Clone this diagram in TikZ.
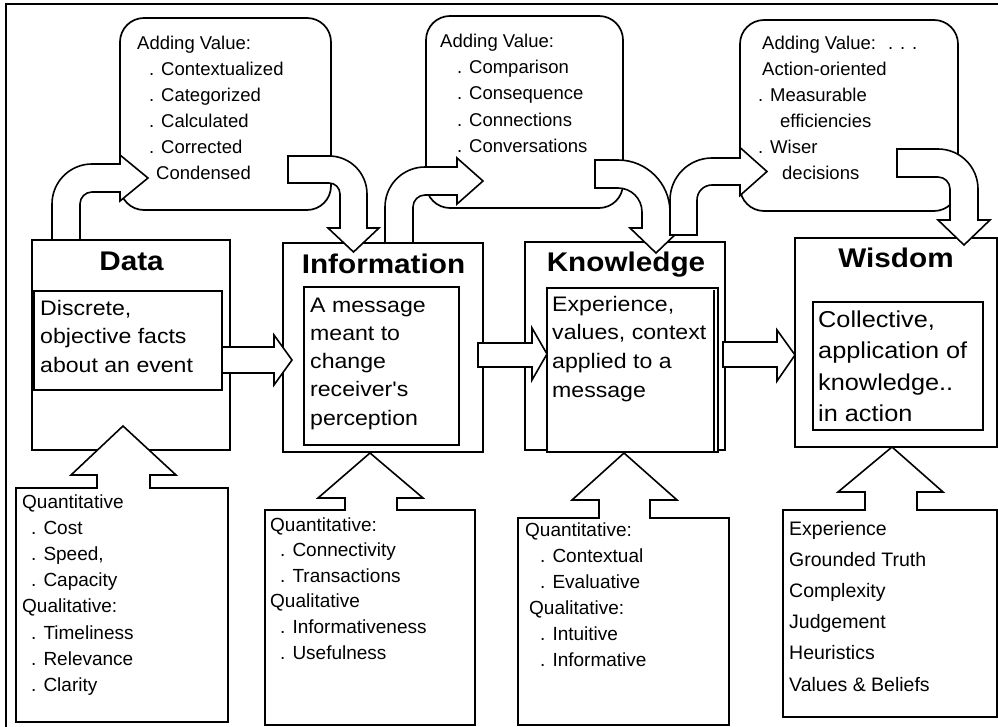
\documentclass[tikz,border=0pt]{standalone}
\usepackage{fontspec}
\setmainfont{Liberation Sans}
\newfontfamily\widefont[FakeStretch=1.1]{Liberation Sans}
\begin{document}
\begin{tikzpicture}[x=1pt,y=-1pt,
  box/.style={draw, line width=1.7pt, fill=white},
  blk/.style={draw, line width=1.6pt, fill=white, line join=miter},
  ttl/.style={font=\widefont\bfseries\fontsize{27}{32}\selectfont, anchor=base, inner sep=0pt},
  body/.style={font=\widefont\fontsize{21}{25}\selectfont, anchor=base west, inner sep=0pt},
  bodyw/.style={font=\widefont\fontsize{23}{27}\selectfont, anchor=base west, inner sep=0pt},
  call/.style={font=\fontsize{18.5}{22}\selectfont, anchor=base west, inner sep=0pt},
  low/.style={font=\fontsize{19}{23}\selectfont, anchor=base west, inner sep=0pt},
  loww/.style={font=\fontsize{19.5}{23}\selectfont, anchor=base west, inner sep=0pt}]
\useasboundingbox (0,0) rectangle (998,727);
% outer frame
\draw[line width=2pt] (6,4) rectangle (1010,740);

% callouts
\draw[box, rounded corners=24pt] (120,18) rectangle (331,210);
\draw[box, rounded corners=24pt] (426,16) rectangle (623,208);
\draw[box, rounded corners=24pt] (740,20) rectangle (958,211);

\node[call] (c1a) at (137,50) {Adding Value:};
\node[call] (c1b) at (149,76) {. Contextualized};
\node[call] (c1c) at (149,102) {. Categorized};
\node[call] (c1d) at (149,128) {. Calculated};
\node[call] (c1e) at (149,154) {. Corrected};
\node[call] (c1f) at (156,180) {Condensed};

\node[call] (c2a) at (440,48) {Adding Value:};
\node[call] (c2b) at (457,74) {. Comparison};
\node[call] (c2c) at (457,100) {. Consequence};
\node[call] (c2d) at (457,127) {. Connections};
\node[call] (c2e) at (457,153) {. Conversations};

\node[call] (c3a) at (762,50) {Adding Value:};
\node[call] (c3dots) at (888,50) {. . .};
\node[call] (c3b) at (762,76) {Action-oriented};
\node[call] (c3c) at (758,102) {. Measurable};
\node[call] (c3d) at (780,128) {efficiencies};
\node[call] (c3e) at (758,154) {. Wiser};
\node[call] (c3f) at (782,180) {decisions};

% main boxes
\draw[box] (32,240) rectangle (230,450);
\draw[box] (34,291) rectangle (222,390);
\draw[box] (283,243) rectangle (483,452);
\draw[box] (304,287) rectangle (459,445);
\draw[box] (525,242) rectangle (725,450);
\draw[box] (547,288) rectangle (718,452);
\draw[line width=1.2pt] (714,290) -- (714,452);
\draw[box] (795,238) rectangle (997,447);
\draw[box] (813,302) rectangle (983,430);

% horizontal block arrows
\draw[blk] (222,347) -- (274,347) -- (274,335) -- (292,360) -- (274,385) -- (274,373) -- (222,373) -- cycle;
\draw[blk] (478,343) -- (532,343) -- (532,328) -- (547,354) -- (532,380) -- (532,367) -- (478,367) -- cycle;
\draw[blk] (723,342) -- (777,342) -- (777,330) -- (795,355) -- (777,381) -- (777,367) -- (723,367) -- cycle;

% curved block arrows
\draw[blk] (52,240) -- (52,204) .. controls (52,181.9) and (69.9,164) .. (92,164) -- (120,164) -- (120,155) -- (148,178) -- (120,201) -- (120,192) -- (92,192) .. controls (85.4,192) and (80,197.4) .. (80,204) -- (80,240) -- cycle;
\draw[blk] (288,156) -- (329,156) .. controls (350,156) and (367,173) .. (367,194) -- (367,228) -- (379,228) -- (353.5,252) -- (328,228) -- (340,228) -- (340,194) .. controls (340,187.9) and (335.1,183) .. (329,183) -- (288,183) -- cycle;
\draw[blk] (385,243) -- (385,207) .. controls (385,184.9) and (402.9,167) .. (425,167) -- (457,167) -- (457,158) -- (483,181) -- (457,204) -- (457,195) -- (425,195) .. controls (418.4,195) and (413,200.4) .. (413,207) -- (413,243) -- cycle;
\draw[blk] (595,160) -- (618,160) .. controls (646.7,160) and (670,183.3) .. (670,212) -- (670,228) -- (682,228) -- (656,253) -- (630,228) -- (642,228) -- (642,212) .. controls (642,198.7) and (631.3,188) .. (618,188) -- (595,188) -- cycle;
\draw[blk] (670,235) -- (670,200) .. controls (670,176.8) and (688.8,158) .. (712,158) -- (740,158) -- (740,147.5) -- (767,171.5) -- (740,195.5) -- (740,185) -- (712,185) .. controls (703.7,185) and (697,191.7) .. (697,200) -- (697,235) -- cycle;
\draw[blk] (897,149) -- (938,149) .. controls (960.1,149) and (978,166.9) .. (978,189) -- (978,220) -- (990,220) -- (964,245) -- (938,220) -- (950,220) -- (950,189) .. controls (950,182.4) and (944.6,177) .. (938,177) -- (897,177) -- cycle;

% titles
\node[ttl] (tdata) at (131.5,270) {Data};
\node[ttl] (tinfo) at (383.5,273) {Information};
\node[ttl] (tknow) at (626,272) {Knowledge};
\node[ttl] (twis) at (896,268) {Wisdom};

% inner texts
\node[body] (d1) at (40,315) {Discrete,};
\node[body] (d2) at (40,343.5) {objective facts};
\node[body] (d3) at (40,372) {about an event};

\node[body] (i1) at (310,312) {A message};
\node[body] (i2) at (310,340.3) {meant to};
\node[body] (i3) at (310,368.6) {change};
\node[body] (i4) at (310,396.9) {receiver's};
\node[body] (i5) at (310,425.2) {perception};

\node[body] (k1) at (552,311) {Experience,};
\node[body] (k2) at (552,339.7) {values, context};
\node[body] (k3) at (552,368.4) {applied to a};
\node[body] (k4) at (552,397.1) {message};

\node[bodyw] (w1) at (818,327) {Collective,};
\node[bodyw] (w2) at (818,358.5) {application of};
\node[bodyw] (w3) at (818,390) {knowledge..};
\node[bodyw] (w4) at (818,421.5) {in action};

% bottom boxes with up arrows
\draw[blk] (16,488) -- (97,488) -- (97,475) -- (71,475) -- (123,426) -- (176,475) -- (150,475) -- (150,488) -- (228,488) -- (228,722) -- (16,722) -- cycle;
\draw[blk] (265,510) -- (345,510) -- (345,498) -- (318,498) -- (370,453) -- (423,498) -- (397,498) -- (397,510) -- (475,510) -- (475,725) -- (265,725) -- cycle;
\draw[blk] (518,518) -- (599,518) -- (599,500) -- (572,500) -- (624,453) -- (677,500) -- (650,500) -- (650,518) -- (729,518) -- (729,725) -- (518,725) -- cycle;
\draw[blk] (783,510) -- (865,510) -- (865,492) -- (838,492) -- (892,447) -- (943,492) -- (917,492) -- (917,510) -- (997,510) -- (997,717) -- (783,717) -- cycle;

\node[low] (dl1) at (22,508) {Quantitative};
\node[low] (dl2) at (31,534.2) {. Cost};
\node[low] (dl3) at (31,560.4) {. Speed,};
\node[low] (dl4) at (31,586.6) {. Capacity};
\node[low] (dl5) at (22,612.8) {Qualitative:};
\node[low] (dl6) at (31,639) {. Timeliness};
\node[low] (dl7) at (31,665.2) {. Relevance};
\node[low] (dl8) at (31,691.4) {. Clarity};

\node[low] (il1) at (270,531) {Quantitative:};
\node[low] (il2) at (280,556.6) {. Connectivity};
\node[low] (il3) at (280,582.2) {. Transactions};
\node[low] (il4) at (270,607.8) {Qualitative};
\node[low] (il5) at (280,633.4) {. Informativeness};
\node[low] (il6) at (280,659) {. Usefulness};

\node[low] (kl1) at (525,536) {Quantitative:};
\node[low] (kl2) at (540,562) {. Contextual};
\node[low] (kl3) at (540,588) {. Evaluative};
\node[low] (kl4) at (529,614) {Qualitative:};
\node[low] (kl5) at (540,640) {. Intuitive};
\node[low] (kl6) at (540,666) {. Informative};

\node[loww] (wl1) at (789,535) {Experience};
\node[loww] (wl2) at (789,566.2) {Grounded Truth};
\node[loww] (wl3) at (789,597.4) {Complexity};
\node[loww] (wl4) at (789,628.6) {Judgement};
\node[loww] (wl5) at (789,659.8) {Heuristics};
\node[loww] (wl6) at (789,691) {Values \& Beliefs};
\end{tikzpicture}
\end{document}
